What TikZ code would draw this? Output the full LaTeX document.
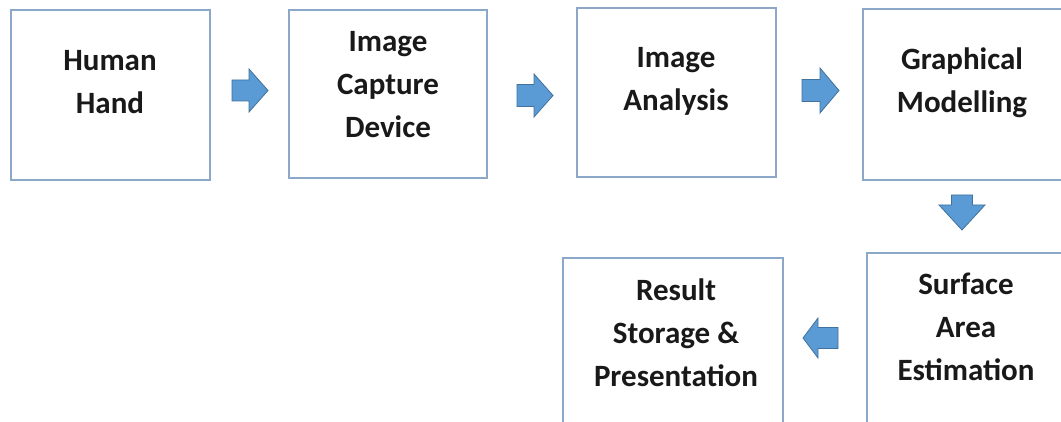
\documentclass[tikz,border=0pt]{standalone}
\usepackage{fontspec}
\setmainfont{Carlito}
\definecolor{boxc}{RGB}{140,168,200}
\definecolor{arrowfill}{RGB}{91,155,213}
\definecolor{arrowedge}{RGB}{65,113,156}
\begin{document}
\begin{tikzpicture}[x=1pt,y=-1pt,
  box/.style={draw=boxc, line width=1.6pt, fill=white, inner sep=0pt},
  lbl/.style={font=\fontsize{31}{43}\selectfont\bfseries, align=center, inner sep=0pt, text=black!90},
  barrow/.style={fill=arrowfill, draw=arrowedge, line width=0.8pt, line join=miter}]
\useasboundingbox (0,0) rectangle (1061,422);
\clip (0,0) rectangle (1061,422);
\fill[white] (0,0) rectangle (1061,422);
% boxes
\node[box, minimum width=199pt, minimum height=170pt] (b1) at (110.5,95) {};
\node[box, minimum width=198pt, minimum height=168pt] (b2) at (388,94) {};
\node[box, minimum width=199pt, minimum height=169pt] (b3) at (676.5,92.5) {};
\node[box, minimum width=203pt, minimum height=171pt] (b4) at (964.5,94.5) {};
\node[box, minimum width=203pt, minimum height=187pt] (b5) at (968.5,346.5) {};
\node[box, minimum width=220pt, minimum height=182pt] (b6) at (673,349) {};
% labels
\node[lbl] (t1) at (110,82) {Human\\Hand};
\node[lbl] (t2) at (388,85) {Image\\Capture\\Device};
\node[lbl] (t3) at (676,81) {Image\\Analysis};
\node[lbl] (t4) at (962,83) {Graphical\\Modelling};
\node[lbl] (t5) at (966,327) {Surface\\Area\\Estimation};
\node[lbl] (t6) at (676,333) {Result\\Storage \&\\Presentation};
% block arrows
\draw[barrow] (232,80) -- (249,80) -- (249,69) -- (268,90.5) -- (249,112) -- (249,101) -- (232,101) -- cycle;
\draw[barrow] (517,84.5) -- (534,84.5) -- (534,74) -- (553,95.5) -- (534,117) -- (534,106.5) -- (517,106.5) -- cycle;
\draw[barrow] (802,79.5) -- (820,79.5) -- (820,68) -- (839,90.5) -- (820,113) -- (820,101.5) -- (802,101.5) -- cycle;
\draw[barrow] (951.5,195) -- (972.5,195) -- (972.5,205) -- (985,205) -- (962,230) -- (939,205) -- (951.5,205) -- cycle;
\draw[barrow] (838,327.5) -- (818,327.5) -- (818,318) -- (803,338) -- (818,358) -- (818,348.5) -- (838,348.5) -- cycle;
\end{tikzpicture}
\end{document}
